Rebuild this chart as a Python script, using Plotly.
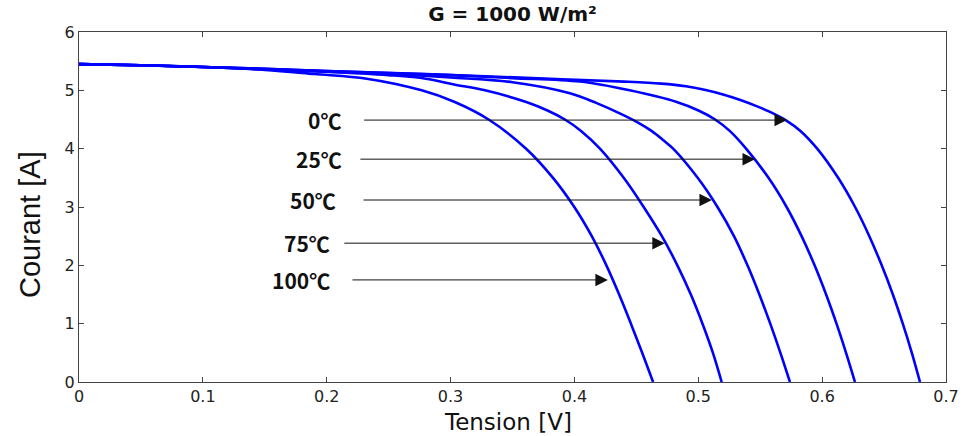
import plotly.graph_objects as go

# ---- data ----
temps = ["0℃", "25℃", "50℃", "75℃", "100℃"]

v_0 = [0.0, 0.05, 0.1, 0.15, 0.2, 0.28, 0.39, 0.44, 0.47, 0.49, 0.505, 0.52, 0.534, 0.547,
       0.5575, 0.5705, 0.5827, 0.596, 0.6129, 0.6266, 0.6381, 0.6481, 0.6571, 0.6651, 0.6724,
       0.679]
i_0 = [5.45, 5.43, 5.40, 5.37, 5.33, 5.28, 5.19, 5.15, 5.115, 5.07, 5.01, 4.93, 4.835, 4.73,
       4.634, 4.49, 4.30, 4.00, 3.50, 3.00, 2.50, 2.00, 1.50, 1.00, 0.50, 0.0]

v_25 = [0.0, 0.05, 0.1, 0.15, 0.2, 0.3, 0.35, 0.4045, 0.4446, 0.4826, 0.5006, 0.5136, 0.5256,
        0.5386, 0.5567, 0.5713, 0.5834, 0.5939, 0.6032, 0.6116, 0.6193, 0.6265]
i_25 = [5.45, 5.43, 5.40, 5.37, 5.33, 5.26, 5.21, 5.15, 5.00, 4.80, 4.65, 4.50, 4.30,
        4.00, 3.50, 3.00, 2.50, 2.00, 1.50, 1.00, 0.50, 0.0]

v_50 = [0.0, 0.05, 0.1, 0.15, 0.2, 0.25, 0.3, 0.35, 0.3964, 0.418, 0.437, 0.451, 0.4625,
        0.4715, 0.4797, 0.4995, 0.5155, 0.5288, 0.5397, 0.5493, 0.5581, 0.5663, 0.574]
i_50 = [5.45, 5.43, 5.40, 5.36, 5.32, 5.28, 5.22, 5.14, 4.95, 4.78, 4.60, 4.45, 4.30,
        4.15, 4.00, 3.50, 3.00, 2.50, 2.00, 1.50, 1.00, 0.50, 0.0]

v_75 = [0.0, 0.05, 0.1, 0.15, 0.2, 0.25, 0.28, 0.3028, 0.3278, 0.3611, 0.3787, 0.3923,
        0.4056, 0.4206, 0.4398, 0.4559, 0.4706, 0.4831, 0.494, 0.5034, 0.5118, 0.5189]
i_75 = [5.45, 5.43, 5.40, 5.36, 5.32, 5.26, 5.20, 5.10, 5.00, 4.80, 4.65, 4.50,
        4.30, 4.00, 3.50, 3.00, 2.50, 2.00, 1.50, 1.00, 0.50, 0.0]

v_100 = [0.0, 0.05, 0.1, 0.15, 0.19, 0.2323, 0.2767, 0.3034, 0.3307, 0.361, 0.3827, 0.3999,
         0.414, 0.4258, 0.4361, 0.4456, 0.4547, 0.4635]
i_100 = [5.45, 5.43, 5.40, 5.35, 5.28, 5.20, 5.00, 4.80, 4.50, 4.00, 3.50, 3.00,
         2.50, 2.00, 1.50, 1.00, 0.50, 0.0]

curves_v = [v_0, v_25, v_50, v_75, v_100]
curves_i = [i_0, i_25, i_50, i_75, i_100]

# arrow annotations: tip voltage, current level, tail voltage, label right edge
arrow_tip_v = [0.5716, 0.5458, 0.511, 0.473, 0.427]
arrow_i = [4.49, 3.82, 3.12, 2.38, 1.75]
arrow_tail_v = [0.229, 0.226, 0.2285, 0.213, 0.2196]
label_v = [0.2135, 0.214, 0.2095, 0.2045, 0.2045]

x_ticks = [0, 0.1, 0.2, 0.3, 0.4, 0.5, 0.6, 0.7]
x_tick_text = ["0", "0.1", "0.2", "0.3", "0.4", "0.5", "0.6", "0.7"]
y_ticks = [0, 1, 2, 3, 4, 5, 6]

fig = go.Figure()
for v, i, t in zip(curves_v, curves_i, temps):
    fig.add_trace(go.Scatter(x=v, y=i, mode="lines", name=t,
                             line=dict(color="#0000FF", width=2.6, shape="spline", smoothing=1.0),
                             showlegend=False, hoverinfo="skip"))

for tip, cur, tail, lab, t in zip(arrow_tip_v, arrow_i, arrow_tail_v, label_v, temps):
    fig.add_annotation(x=tip, y=cur, ax=tail, ay=cur, xref="x", yref="y",
                       axref="x", ayref="y", text="", showarrow=True,
                       arrowhead=2, arrowsize=2.5, arrowwidth=1, arrowcolor="#111111",
                       standoff=0, startstandoff=0)
    fig.add_annotation(x=lab, y=cur, xref="x", yref="y", text="<b>" + t + "</b>",
                       showarrow=False, xanchor="right", yanchor="middle",
                       font=dict(family="Noto Sans CJK SC", size=21, color="#111111"))

axis_common = dict(showgrid=False, zeroline=False, showline=True, linecolor="#444444",
                   linewidth=1, mirror="ticks", ticks="inside", ticklen=5,
                   tickcolor="#444444", automargin=False)

fig.update_xaxes(range=[0, 0.7], tickvals=x_ticks, ticktext=x_tick_text,
                 tickfont=dict(family="DejaVu Sans", size=16, color="#222222"),
                 **axis_common)
fig.update_yaxes(range=[0, 6], tickvals=y_ticks,
                 tickfont=dict(family="DejaVu Sans", size=16, color="#222222"),
                 **axis_common)

# axis titles
fig.add_annotation(text="Tension [V]", xref="paper", yref="paper",
                   x=(508 - 79) / (946 - 79), y=-(422 - 382) / 350,
                   xanchor="center", yanchor="middle", showarrow=False,
                   font=dict(family="DejaVu Sans", size=23, color="#111111"))
fig.add_annotation(text="Courant [A]", xref="paper", yref="paper",
                   x=-(79 - 30) / (946 - 79), y=(382 - 225) / 350, textangle=-90,
                   xanchor="center", yanchor="middle", showarrow=False,
                   font=dict(family="Liberation Sans", size=29, color="#111111"))

fig.update_layout(
    width=965, height=436,
    margin=dict(l=79, r=19, t=32, b=54, autoexpand=False),
    plot_bgcolor="white", paper_bgcolor="white",
    title=dict(text="<b>G = 1000 W/m²</b>", x=0.5, xref="paper", xanchor="center",
               y=1 - 14 / 436, yref="container", yanchor="middle",
               font=dict(family="DejaVu Sans", size=20, color="#111111")),
)

fig.write_html("out.html")
